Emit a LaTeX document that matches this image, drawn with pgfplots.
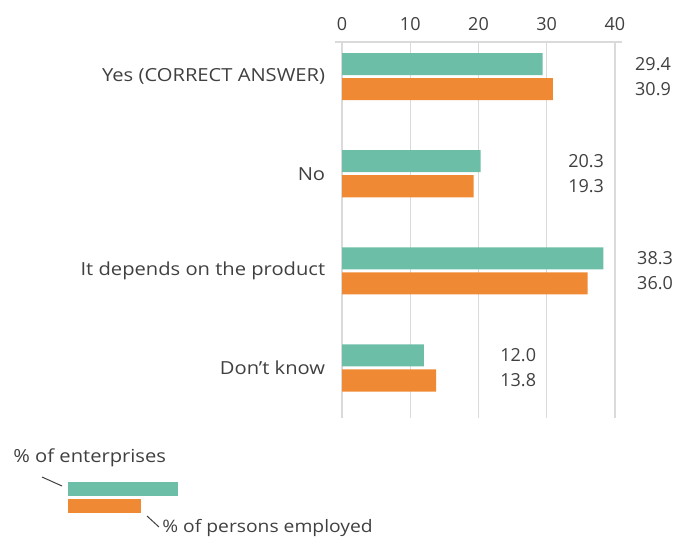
\documentclass[border=0pt]{standalone}
\usepackage{pgfplots}
\pgfplotsset{compat=1.18}
\usepackage{fontspec}
\setmainfont{Open Sans}[FakeStretch=1.12]
\newfontfamily\numfont{Open Sans}
\definecolor{cgreen}{RGB}{108,191,166}
\definecolor{corange}{RGB}{240,137,52}
\definecolor{ctext}{RGB}{64,64,64}
\definecolor{cgrid}{RGB}{218,218,218}
\tikzset{vl/.style={font=\numfont\fontsize{9}{11}\selectfont, inner sep=0pt, anchor=west}}
\begin{document}
\begin{tikzpicture}[x=0.5pt,y=-0.5pt,font=\fontsize{9}{11}\selectfont,text=ctext]
\path[use as bounding box] (0,0) rectangle (675,541);
\begin{axis}[
  at={(167.6pt,-21pt)}, anchor=north west,
  scale only axis, width=143.3pt, height=188pt,
  xmin=-1, xmax=41, ymin=-0.356, ymax=3.515,
  y dir=reverse,
  xbar, bar width=0.227,
  axis x line*=top, axis y line*=left,
  y axis line style={draw=none},
  x axis line style={draw=cgrid, line width=0.6pt},
  xtick={0,10,20,30,40},
  ytick={0,1,2,3},
  yticklabels={Yes (CORRECT ANSWER),No,It depends on the product,Don{\char39}t know},
  major tick length=0pt,
  xmajorgrids, major grid style={draw=cgrid, line width=0.6pt},
  /pgf/number format/assume math mode=true,
  tick label style={font=\fontsize{9}{11}\selectfont, text=ctext},
  xticklabel style={yshift=2pt, font=\numfont\fontsize{9}{11}\selectfont},
  yticklabel style={xshift=-1.5pt},
  clip=false,
]
\addplot[fill=cgreen, draw=none, bar shift=-0.129] coordinates {(29.4,0) (20.3,1) (38.3,2) (12.0,3)};
\addplot[fill=corange, draw=none, bar shift=0.129] coordinates {(30.9,0) (19.3,1) (36.0,2) (13.8,3)};
\node[vl] at (axis cs:42.9,-0.129) {29.4};
\node[vl] at (axis cs:42.9,0.129) {30.9};
\node[vl] at (axis cs:33.1,0.871) {20.3};
\node[vl] at (axis cs:33.1,1.129) {19.3};
\node[vl] at (axis cs:43.2,1.871) {38.3};
\node[vl] at (axis cs:43.2,2.129) {36.0};
\node[vl] at (axis cs:23.15,2.871) {12.0};
\node[vl] at (axis cs:23.15,3.129) {13.8};
\end{axis}
% legend
\node[anchor=west, inner sep=0pt] at (13,458) {\% of enterprises};
\draw[ctext, line width=0.5pt] (42,477) -- (62,486);
\fill[cgreen] (68,482) rectangle (178,496);
\fill[corange] (68,499) rectangle (141,513);
\draw[ctext, line width=0.5pt] (147,516) -- (159,527);
\node[anchor=west, inner sep=0pt] at (162,528) {\fontsize{8.6}{10}\selectfont\% of persons employed};
\end{tikzpicture}
\end{document}
